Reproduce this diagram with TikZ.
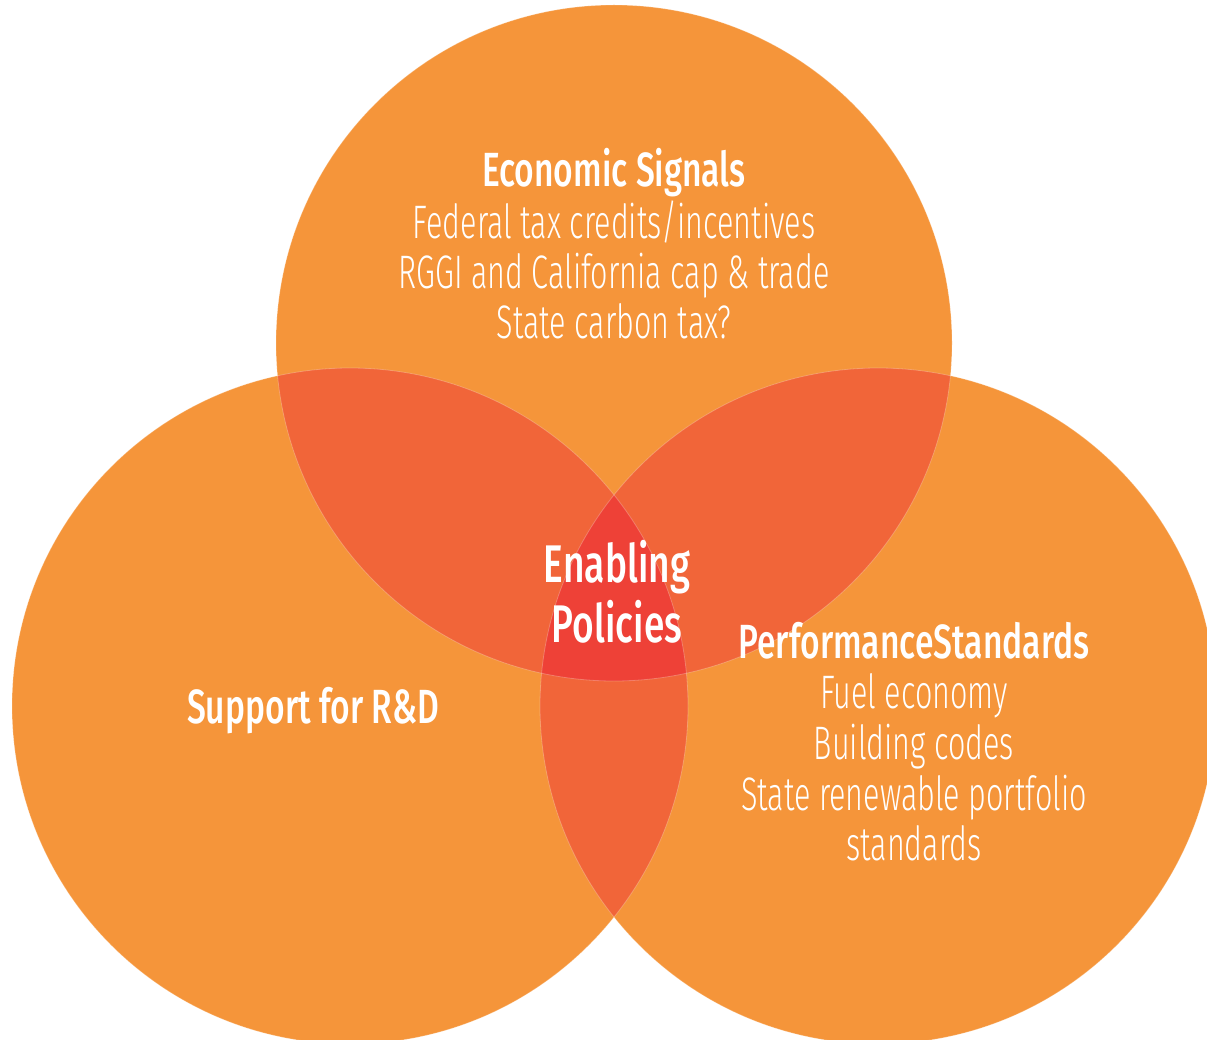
\documentclass[tikz,border=0pt]{standalone}
\usepackage{fontspec}
\newfontfamily\lightf[FakeStretch=0.65]{Fira Sans Light}
\newfontfamily\headf[FakeStretch=0.7]{Fira Sans Medium}
\newfontfamily\bigf[FakeStretch=0.7]{Fira Sans Medium}
\definecolor{orangeA}{HTML}{F5953A}
\definecolor{orangeB}{HTML}{F16539}
\definecolor{redC}{HTML}{EE4137}
\tikzset{
  body/.style={anchor=base, text=white, inner sep=0pt, font=\lightf\fontsize{47}{50}\selectfont},
  head/.style={anchor=base, text=white, inner sep=0pt, font=\headf\fontsize{48}{50}\selectfont},
  big/.style={anchor=base, text=white, inner sep=0pt, font=\bigf\fontsize{53}{60}\selectfont},
  rim/.style={draw=white, draw opacity=0.25, line width=0.8pt}
}
\begin{document}
\begin{tikzpicture}[x=1pt,y=-1pt]
\useasboundingbox (0,0) rectangle (1207,1040);
\clip (0,0) rectangle (1207,1040);
\coordinate (ct) at (614,343);
\coordinate (cl) at (350,706);
\coordinate (cr) at (878,706);
% circles
\fill[orangeA] (ct) circle[radius=338pt];
\fill[orangeA] (cl) circle[radius=338pt];
\fill[orangeA] (cr) circle[radius=338pt];
% pairwise overlaps
\begin{scope}
  \clip (ct) circle[radius=338pt];
  \fill[orangeB] (cl) circle[radius=338pt];
  \fill[orangeB] (cr) circle[radius=338pt];
\end{scope}
\begin{scope}
  \clip (cl) circle[radius=338pt];
  \fill[orangeB] (cr) circle[radius=338pt];
\end{scope}
% triple overlap
\begin{scope}
  \clip (ct) circle[radius=338pt];
  \clip (cl) circle[radius=338pt];
  \fill[redC] (cr) circle[radius=338pt];
\end{scope}
% faint rims
\draw[rim] (ct) circle[radius=338pt];
\draw[rim] (cl) circle[radius=338pt];
\draw[rim] (cr) circle[radius=338pt];
% texts
\node[head] (es) at (614,187) {Economic Signals};
\node[body] (e1) at (614,239) {Federal tax credits/incentives};
\node[body] (e2) at (614,289) {RGGI and California cap \& trade};
\node[body] (e3) at (614,339) {State carbon tax?};
\node[big] (en1) at (617,582) {Enabling};
\node[big] (en2) at (617,642) {Policies};
\node[head] (ps) at (914,658) {PerformanceStandards};
\node[body] (p1) at (914,708) {Fuel economy};
\node[body] (p2) at (914,759) {Building codes};
\node[body] (p3) at (914,810) {State renewable portfolio};
\node[body] (p4) at (914,860) {standards};
\node[head] (rd) at (313,723) {Support for R\&D};
\end{tikzpicture}
\end{document}
